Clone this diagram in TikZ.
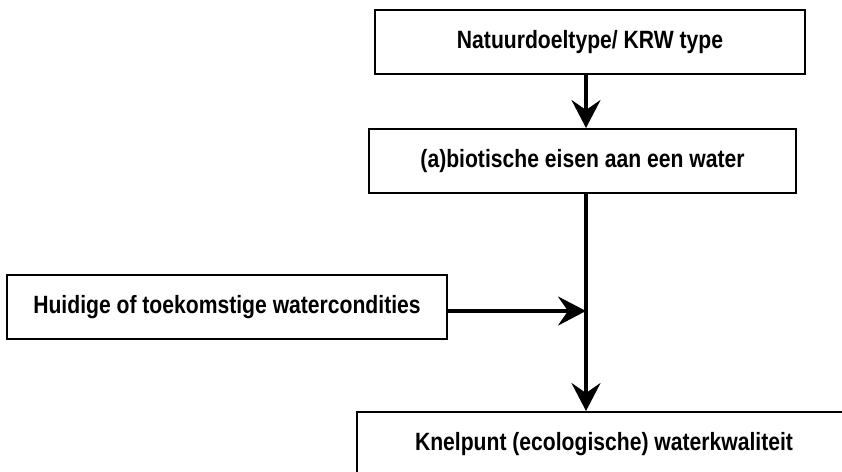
\documentclass[tikz,border=0pt]{standalone}
\usepackage{fontspec}
\setmainfont{Liberation Sans}[FakeStretch=0.845]
\usepackage{tikz}
\usetikzlibrary{arrows.meta}
\tikzset{
	% The boxes of the scheme
	step_box/.style={
		draw=black,rectangle,line width=2pt,minimum height=64pt,inner sep=0pt,
		font=\bfseries\fontsize{25}{28}\selectfont
	},
	% The arrows between the boxes
	flow_arrow/.style={
		line width=3.5pt,-{Stealth[length=28pt,width=29pt,inset=10pt]}
	},
}
\begin{document}
\begin{tikzpicture}[x=1pt,y=-1pt]
		\useasboundingbox (0,0) rectangle (842,471);
		\clip (0,0) rectangle (842,471);
		\node [step_box,minimum width=430pt] (Natuurdoeltype) at (590,42) {Natuurdoeltype/ KRW type};
		\node [step_box,minimum width=427pt] (Eisen) at (582.5,161) {(a)biotische eisen aan een water};
		\node [step_box,minimum width=440pt] (Watercondities) at (227,307) {Huidige of toekomstige watercondities};
		\node [step_box,minimum width=494pt] (Knelpunt) at (604,444) {Knelpunt (ecologische) waterkwaliteit};

		% The junction on the main line
		\coordinate (Junction) at (586,311);

		\draw [flow_arrow] (Natuurdoeltype.south -| Junction) -- (Eisen.north -| Junction);
		\draw [flow_arrow] (Watercondities.east |- Junction) -- (Junction);
		\draw [flow_arrow] (Eisen.south -| Junction) -- (Knelpunt.north -| Junction);
	\end{tikzpicture}
\end{document}
